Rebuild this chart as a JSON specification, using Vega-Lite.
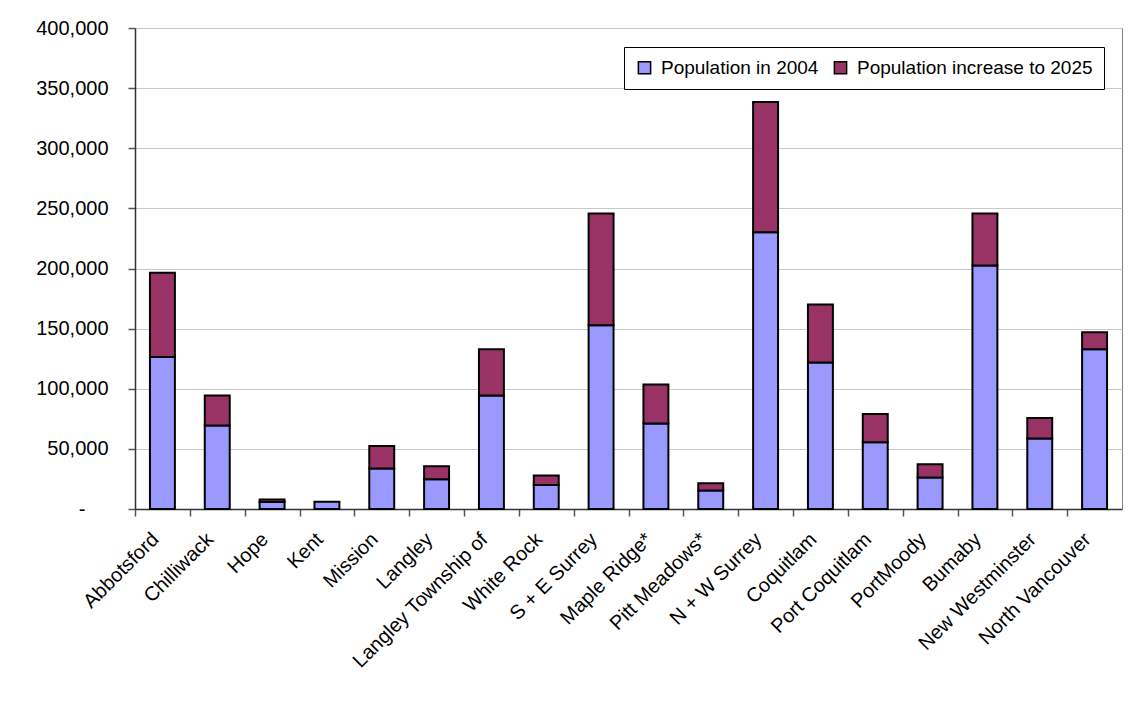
{
"$schema": "https://vega.github.io/schema/vega-lite/v6.json",
"width": 987,
"height": 481,
"autosize": "none",
"padding": {"left": 135, "top": 28, "right": 8, "bottom": 194},
"background": "white",
"config": {
  "view": {"stroke": "#808080", "strokeWidth": 1},
  "font": "Liberation Sans, Arial, sans-serif"
},
"data": {"values": [
  {"area": "Abbotsford", "series": "Population in 2004", "order": 1, "value": 126500},
  {"area": "Abbotsford", "series": "Population increase to 2025", "order": 2, "value": 70000},
  {"area": "Chilliwack", "series": "Population in 2004", "order": 1, "value": 69500},
  {"area": "Chilliwack", "series": "Population increase to 2025", "order": 2, "value": 24800},
  {"area": "Hope", "series": "Population in 2004", "order": 1, "value": 5800},
  {"area": "Hope", "series": "Population increase to 2025", "order": 2, "value": 2000},
  {"area": "Kent", "series": "Population in 2004", "order": 1, "value": 6100},
  {"area": "Mission", "series": "Population in 2004", "order": 1, "value": 33600},
  {"area": "Mission", "series": "Population increase to 2025", "order": 2, "value": 18800},
  {"area": "Langley", "series": "Population in 2004", "order": 1, "value": 24700},
  {"area": "Langley", "series": "Population increase to 2025", "order": 2, "value": 10800},
  {"area": "Langley Township of", "series": "Population in 2004", "order": 1, "value": 94300},
  {"area": "Langley Township of", "series": "Population increase to 2025", "order": 2, "value": 38500},
  {"area": "White Rock", "series": "Population in 2004", "order": 1, "value": 20000},
  {"area": "White Rock", "series": "Population increase to 2025", "order": 2, "value": 7800},
  {"area": "S + E Surrey", "series": "Population in 2004", "order": 1, "value": 152800},
  {"area": "S + E Surrey", "series": "Population increase to 2025", "order": 2, "value": 93000},
  {"area": "Maple Ridge*", "series": "Population in 2004", "order": 1, "value": 71000},
  {"area": "Maple Ridge*", "series": "Population increase to 2025", "order": 2, "value": 32500},
  {"area": "Pitt Meadows*", "series": "Population in 2004", "order": 1, "value": 15300},
  {"area": "Pitt Meadows*", "series": "Population increase to 2025", "order": 2, "value": 6100},
  {"area": "N + W Surrey", "series": "Population in 2004", "order": 1, "value": 230200},
  {"area": "N + W Surrey", "series": "Population increase to 2025", "order": 2, "value": 108300},
  {"area": "Coquitlam", "series": "Population in 2004", "order": 1, "value": 121800},
  {"area": "Coquitlam", "series": "Population increase to 2025", "order": 2, "value": 48200},
  {"area": "Port Coquitlam", "series": "Population in 2004", "order": 1, "value": 55500},
  {"area": "Port Coquitlam", "series": "Population increase to 2025", "order": 2, "value": 23500},
  {"area": "PortMoody", "series": "Population in 2004", "order": 1, "value": 26100},
  {"area": "PortMoody", "series": "Population increase to 2025", "order": 2, "value": 11100},
  {"area": "Bumaby", "series": "Population in 2004", "order": 1, "value": 202500},
  {"area": "Bumaby", "series": "Population increase to 2025", "order": 2, "value": 43300},
  {"area": "New Westminster", "series": "Population in 2004", "order": 1, "value": 58600},
  {"area": "New Westminster", "series": "Population increase to 2025", "order": 2, "value": 17100},
  {"area": "North Vancouver", "series": "Population in 2004", "order": 1, "value": 132900},
  {"area": "North Vancouver", "series": "Population increase to 2025", "order": 2, "value": 14100}
]},
"mark": {"type": "bar", "stroke": "black", "strokeWidth": 2, "opacity": 1},
"encoding": {
  "x": {
    "field": "area", "type": "nominal", "sort": null,
    "scale": {"paddingInner": 0.545, "paddingOuter": 0.2725},
    "axis": {
      "title": null, "grid": false,
      "labelAngle": -45, "labelAlign": "right", "labelBaseline": "middle",
      "labelFontSize": 20, "labelColor": "black", "labelPadding": 20,
      "labelOverlap": false, "labelFlush": false, "labelBound": false, "labelLimit": 0,
      "domainColor": "#333333", "domainWidth": 1.5,
      "tickColor": "#555555", "tickWidth": 1.5, "tickSize": 7,
      "bandPosition": 0.5, "tickOffset": -27.4, "labelOffset": 20
    }
  },
  "y": {
    "field": "value", "type": "quantitative", "stack": "zero",
    "scale": {"domain": [0, 400000], "nice": false},
    "axis": {
      "title": null,
      "values": [0, 50000, 100000, 150000, 200000, 250000, 300000, 350000, 400000],
      "labelExpr": "datum.value == 0 ? '-' : format(datum.value, ',')",
      "labelFontSize": 20, "labelColor": "black",
      "labelPadding": {"condition": {"test": "datum.value == 0", "value": 43}, "value": 20},
      "grid": true, "gridColor": "#c8c8c8", "gridWidth": 1,
      "domainColor": "#333333", "domainWidth": 1.5,
      "tickColor": "#555555", "tickWidth": 1.5, "tickSize": 7
    }
  },
  "color": {
    "field": "series", "type": "nominal",
    "scale": {"domain": ["Population in 2004", "Population increase to 2025"], "range": ["#9999FF", "#993366"]},
    "legend": {
      "title": null, "orient": "none", "legendX": 489, "legendY": 19,
      "direction": "horizontal", "fillColor": "white", "strokeColor": "black",
      "padding": 11, "symbolType": "square", "symbolSize": 150,
      "symbolStrokeColor": "black", "symbolStrokeWidth": 1.5, "symbolOpacity": 1,
      "labelFontSize": 19, "labelColor": "black", "labelLimit": 0,
      "columnPadding": 12, "labelOffset": 7
    }
  },
  "order": {"field": "order", "type": "quantitative"}
}
}
